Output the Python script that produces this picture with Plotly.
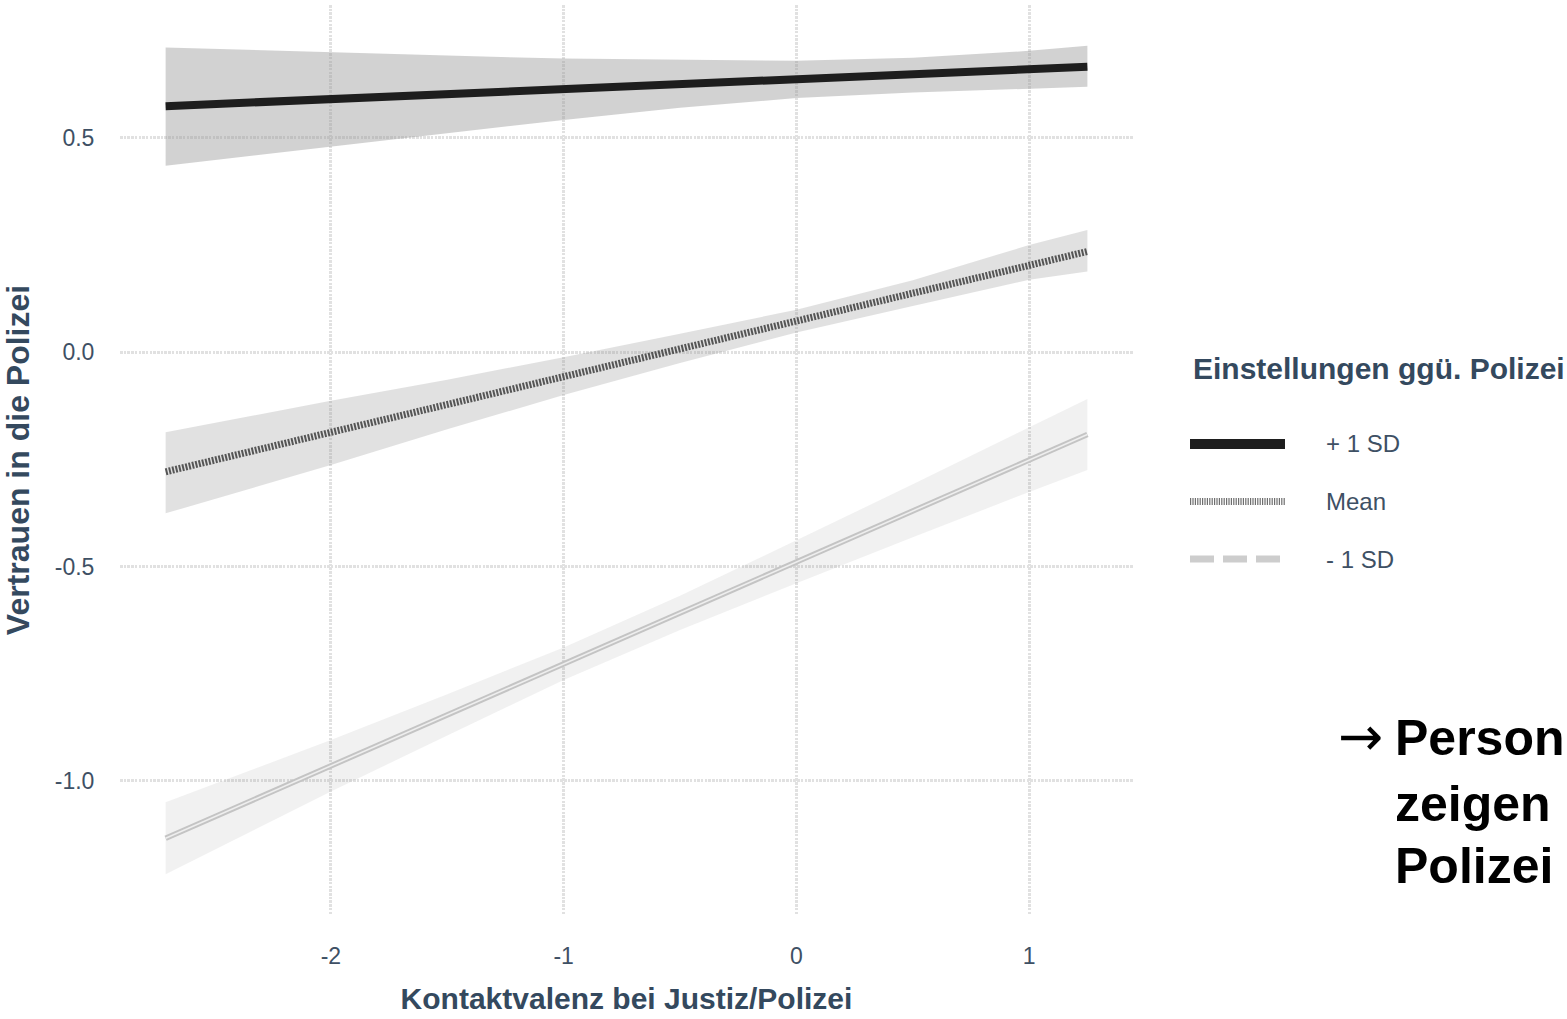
import plotly.graph_objects as go

# ---------------- data ----------------
x_vals = [-2.71, -2.0, -1.5, -1.0, -0.5, 0.0, 0.5, 1.0, 1.25]

plus_fit = [0.574, 0.590, 0.602, 0.614, 0.626, 0.637, 0.649, 0.660, 0.666]
plus_hi = [0.711, 0.699, 0.692, 0.685, 0.682, 0.680, 0.687, 0.703, 0.715]
plus_lo = [0.435, 0.480, 0.512, 0.542, 0.570, 0.593, 0.606, 0.615, 0.619]

mean_fit = [-0.279, -0.187, -0.122, -0.057, 0.008, 0.073, 0.138, 0.203, 0.235]
mean_hi = [-0.187, -0.113, -0.064, -0.012, 0.043, 0.099, 0.168, 0.250, 0.285]
mean_lo = [-0.376, -0.263, -0.180, -0.100, -0.025, 0.046, 0.108, 0.169, 0.188]

minus_fit = [-1.134, -0.965, -0.846, -0.727, -0.608, -0.489, -0.370, -0.251, -0.192]
minus_hi = [-1.050, -0.905, -0.798, -0.689, -0.568, -0.439, -0.308, -0.176, -0.109]
minus_lo = [-1.218, -1.025, -0.894, -0.765, -0.648, -0.539, -0.432, -0.326, -0.275]

x_ticks = [-2, -1, 0, 1]
x_tick_labels = ["-2", "-1", "0", "1"]
y_ticks = [0.5, 0.0, -0.5, -1.0]
y_tick_labels = ["0.5", "0.0", "-0.5", "-1.0"]

legend_labels = ["+ 1 SD", "Mean", "- 1 SD"]
legend_title = "Einstellungen ggü. Polizei"
x_title = "Kontaktvalenz bei Justiz/Polizei"
y_title = "Vertrauen in die Polizei"
side_arrow = "→"
side_text = ["Person", "zeigen", "Polizei"]

# ---------------- styling ----------------
FONT = "Liberation Sans, Arial, sans-serif"
SLATE = "#34495e"
TICK = "#3e5064"

fig = go.Figure()

bands = [
    (plus_lo, plus_hi, "rgba(150,150,150,0.43)"),
    (mean_lo, mean_hi, "rgba(150,150,150,0.29)"),
    (minus_lo, minus_hi, "rgba(150,150,150,0.13)"),
]
for lo, hi, col in bands:
    fig.add_trace(go.Scatter(x=x_vals, y=lo, mode="lines", line=dict(width=0),
                             showlegend=False, hoverinfo="skip"))
    fig.add_trace(go.Scatter(x=x_vals, y=hi, mode="lines", line=dict(width=0),
                             fill="tonexty", fillcolor=col, showlegend=False,
                             hoverinfo="skip"))

# -1 SD line (double thin grey look)
fig.add_trace(go.Scatter(x=x_vals, y=minus_fit, mode="lines",
                         line=dict(color="#c4c4c4", width=5.5), showlegend=False))
fig.add_trace(go.Scatter(x=x_vals, y=minus_fit, mode="lines",
                         line=dict(color="#eeeeee", width=1.6), showlegend=False))
# Mean line (hatched)
fig.add_trace(go.Scatter(x=x_vals, y=mean_fit, mode="lines",
                         line=dict(color="#555555", width=7, dash="2px,1.4px"),
                         showlegend=False))
# +1 SD line
fig.add_trace(go.Scatter(x=x_vals, y=plus_fit, mode="lines",
                         line=dict(color="#1e1e1e", width=8), showlegend=False))

# ---------------- legend drawn on a small overlay axis ----------------
legend_styles = [
    dict(color="#1e1e1e", width=10),
    dict(color="#6e6e6e", width=7, dash="1.2px,1.2px"),
    dict(color="#cdcdcd", width=7, dash="24px,9px"),
]
for i, st in enumerate(legend_styles):
    fig.add_trace(go.Scatter(x=[0, 1], y=[i, i], mode="lines", line=st,
                             xaxis="x2", yaxis="y2", showlegend=False,
                             hoverinfo="skip"))

W, H = 1567, 1019
ML, MR, MT, MB = 120, 0, 5, 104
pw, ph = W - ML - MR, H - MT - MB


def px_x(p):
    return (p - ML) / pw


def px_y(p):
    return (H - MB - p) / ph


annotations = []
for i, lab in enumerate(legend_labels):
    annotations.append(dict(x=px_x(1324), xref="paper", y=i, yref="y2", text=lab,
                            showarrow=False, xanchor="left", yanchor="middle",
                            font=dict(family=FONT, size=24, color=TICK)))
annotations.append(dict(x=px_x(1191), xref="paper", y=px_y(368), yref="paper",
                        text="<b>" + legend_title + "</b>", showarrow=False,
                        xanchor="left", yanchor="middle",
                        font=dict(family=FONT, size=30, color=SLATE)))
annotations.append(dict(x=px_x(1336), xref="paper", y=px_y(736), yref="paper",
                        text=side_arrow, showarrow=False,
                        xanchor="left", yanchor="middle",
                        font=dict(family="DejaVu Sans, sans-serif", size=54,
                                  color="#000000")))
side_pos = [(1393, 738), (1393, 804), (1393, 866)]
for t, (sx, sy) in zip(side_text, side_pos):
    annotations.append(dict(x=px_x(sx), xref="paper", y=px_y(sy), yref="paper",
                            text="<b>" + t + "</b>", showarrow=False,
                            xanchor="left", yanchor="middle",
                            font=dict(family=FONT, size=50, color="#000000")))

grid = dict(showgrid=True, gridcolor="#e1e1e1", gridwidth=2.5, griddash="2.5px,1.2px",
            zeroline=False, showline=False)

fig.update_layout(
    width=W, height=H,
    margin=dict(l=ML, r=MR, t=MT, b=MB, pad=0),
    paper_bgcolor="white", plot_bgcolor="white",
    showlegend=False,
    xaxis=dict(domain=[0, (1133 - ML) / pw], range=[-2.906, 1.446],
               tickvals=x_ticks, ticktext=x_tick_labels,
               ticks="outside", ticklen=20, tickcolor="rgba(0,0,0,0)",
               tickfont=dict(family=FONT, size=23, color=TICK),
               title=dict(text="<b>" + x_title + "</b>", standoff=20,
                          font=dict(family=FONT, size=30, color=SLATE)),
               **grid),
    yaxis=dict(domain=[0, 1], range=[-1.313, 0.81],
               tickvals=y_ticks, ticktext=y_tick_labels,
               ticks="outside", ticklen=20, tickcolor="rgba(0,0,0,0)",
               tickfont=dict(family=FONT, size=23, color=TICK),
               title=dict(text="<b>" + y_title + "</b>", standoff=20,
                          font=dict(family=FONT, size=32, color=SLATE)),
               **grid),
    xaxis2=dict(domain=[px_x(1190), px_x(1285)], range=[0, 1], visible=False,
                anchor="y2"),
    yaxis2=dict(domain=[px_y(444 + 57.5 * 2.5), px_y(444 - 57.5 * 0.5)],
                range=[2.5, -0.5], visible=False, anchor="x2"),
    annotations=annotations,
)

fig.write_html("out.html", config={"displayModeBar": False},
               post_script="document.body.style.margin='0';document.body.style.overflow='hidden';")
